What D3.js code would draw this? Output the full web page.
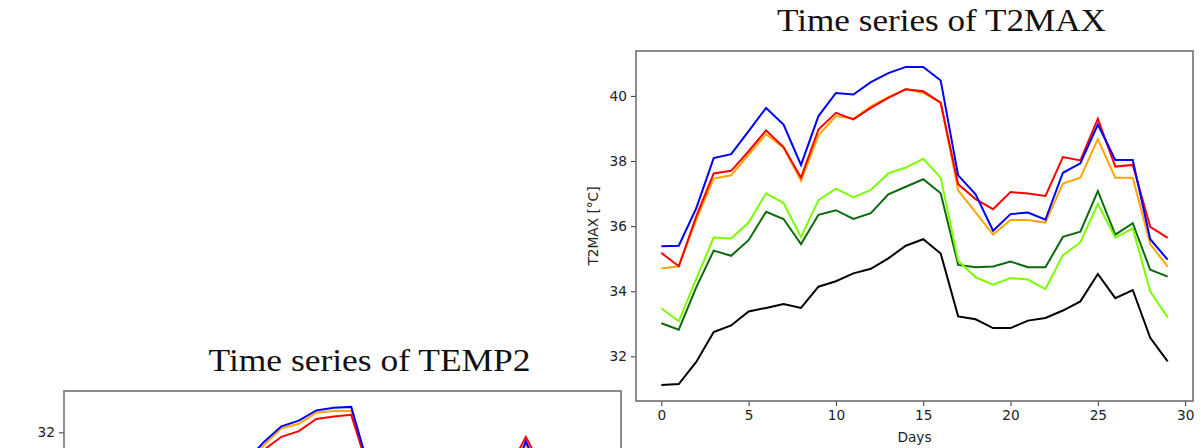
<!DOCTYPE html>
<html>
<head>
<meta charset="utf-8">
<title>Time series of T2MAX / TEMP2</title>
<script src="https://cdn.jsdelivr.net/npm/d3@7"></script>
<style>
    body { margin: 0; background: white; }
    .tick text { font-family: "DejaVu Sans", sans-serif; font-size: 13.7px; fill: #222; }
    .title { font-family: "Liberation Serif", serif; font-size: 31px; fill: #111; }
    .axis-label { font-family: "DejaVu Sans", sans-serif; font-size: 13.7px; fill: #222; }
</style>
</head>
<body>
<script>

// days on the x axis
var days = d3.range(0, 30);
var xTicks = [0, 5, 10, 15, 20, 25, 30];

// series names / colours (same order in both panels)
var seriesNames = ['black', 'darkgreen', 'lime', 'orange', 'red', 'blue'];
var seriesColors = ['#000000', '#0b6b0b', '#7cfc00', '#ffa500', '#ff0000', '#0000ff'];

// T2MAX values
var t2maxBlack = [31.12,31.15,31.83,32.75,32.95,33.38,33.49,33.61,33.49,34.14,34.31,34.55,34.69,35.01,35.40,35.60,35.16,33.23,33.14,32.87,32.87,33.10,33.18,33.41,33.69,34.53,33.79,34.04,32.57,31.85];
var t2maxDarkGreen = [33.02,32.82,34.12,35.25,35.09,35.57,36.44,36.22,35.45,36.35,36.49,36.22,36.40,36.98,37.21,37.44,37.01,34.81,34.74,34.76,34.91,34.74,34.74,35.67,35.83,37.08,35.74,36.09,34.66,34.45];
var t2maxLime = [33.48,33.08,34.38,35.65,35.62,36.11,37.01,36.71,35.67,36.80,37.15,36.88,37.11,37.62,37.80,38.07,37.49,34.94,34.43,34.20,34.41,34.36,34.07,35.11,35.50,36.68,35.65,35.93,34.00,33.20];
var t2maxOrange = [34.70,34.77,36.20,37.46,37.56,38.20,38.82,38.41,37.39,38.79,39.38,39.30,39.68,39.96,40.21,40.09,39.79,37.10,36.42,35.74,36.19,36.19,36.11,37.31,37.49,38.67,37.49,37.49,35.45,34.76];
var t2maxRed = [35.18,34.77,36.30,37.62,37.70,38.30,38.94,38.43,37.49,38.97,39.48,39.28,39.63,39.94,40.20,40.14,39.79,37.29,36.83,36.52,37.05,37.00,36.93,38.12,38.02,39.30,37.83,37.88,35.98,35.64];
var t2maxBlue = [35.38,35.40,36.55,38.09,38.21,38.92,39.63,39.12,37.88,39.38,40.09,40.04,40.42,40.70,40.89,40.89,40.47,37.56,36.98,35.86,36.37,36.42,36.20,37.64,37.93,39.12,38.03,38.03,35.60,34.97];

// TEMP2 values (only the top of this panel is on screen, the rest is estimated)
var temp2Black = [22.8,22.9,23.5,24.3,24.5,24.9,25.0,25.1,25.0,25.6,25.8,26.0,26.1,26.4,26.7,26.9,26.6,24.8,24.7,24.5,24.5,24.7,24.8,25.0,25.3,26.0,25.4,25.6,24.2,23.6];
var temp2DarkGreen = [25.4,25.2,26.0,27.0,27.0,27.5,28.0,27.8,27.3,27.9,28.1,28.0,28.2,28.6,28.8,29.0,28.4,26.9,26.8,26.8,26.9,26.8,26.8,27.4,27.6,28.7,27.5,27.8,26.5,26.2];
var temp2Lime = [25.8,25.5,26.2,27.2,27.3,27.8,28.3,28.1,27.5,28.2,28.5,28.4,28.6,29.0,29.2,29.5,28.6,26.8,26.4,26.2,26.3,26.3,26.1,26.9,27.2,28.4,27.4,27.6,26.0,25.4];
var temp2Orange = [27.9,27.8,28.6,29.9,30.1,30.7,31.1,30.9,30.0,30.9,31.6,32.13,32.27,32.62,32.67,32.67,30.8,29.5,29.2,28.8,28.9,29.0,28.9,29.8,30.2,31.65,30.3,30.3,28.8,28.2];
var temp2Red = [28.0,27.9,28.7,30.0,30.2,30.8,31.1,31.0,30.1,30.9,31.45,31.86,32.04,32.42,32.50,32.55,30.8,29.7,29.5,29.2,29.3,29.3,29.2,30.2,30.8,31.86,30.8,30.8,29.2,28.7];
var temp2Blue = [28.3,28.2,29.0,30.3,30.5,31.0,31.2,31.2,30.3,31.1,31.7,32.19,32.37,32.69,32.77,32.80,30.9,29.6,29.3,28.9,29.0,29.1,29.0,30.0,30.3,31.72,30.5,30.6,29.0,28.4];

var svgWidth = 1204;
var svgHeight = 448;
var plotW = 557;
var plotH = 350;

var svg = d3.select('body').append('svg')
    .attr('width', svgWidth)
    .attr('height', svgHeight)
    .style('display', 'block');

function drawPanel(cfg) {
    var g = svg.append('g')
        .attr('transform', `translate(${cfg.left}, ${cfg.top})`);

    // matplotlib style 5% margins
    var xPad = (days[days.length - 1] - days[0]) * 0.05;
    var x = d3.scaleLinear()
        .domain([days[0] - xPad, days[days.length - 1] + xPad])
        .range([0, plotW]);

    var all = cfg.series.flat();
    var yMin = d3.min(all), yMax = d3.max(all);
    var yPad = (yMax - yMin) * 0.05;
    var y = d3.scaleLinear()
        .domain([yMin - yPad, yMax + yPad])
        .range([plotH, 0]);

    var clipId = 'clip-' + cfg.id;
    g.append('clipPath').attr('id', clipId)
        .append('rect').attr('width', plotW).attr('height', plotH);

    var line = d3.line()
        .x((d, i) => x(days[i]))
        .y(d => y(d));

    g.append('g').attr('clip-path', `url(#${clipId})`)
        .selectAll('path')
        .data(cfg.series)
        .enter()
        .append('path')
            .attr('d', line)
            .style('fill', 'none')
            .style('stroke', (d, i) => seriesColors[i])
            .style('stroke-width', 2)
            .style('stroke-linejoin', 'miter');

    // axes
    var xAxis = d3.axisBottom(x).tickValues(xTicks).tickSize(5).tickPadding(4);
    var yAxis = d3.axisLeft(y).ticks(5).tickSize(5).tickPadding(4);

    var gx = g.append('g').attr('transform', `translate(0, ${plotH})`).call(xAxis);
    var gy = g.append('g').call(yAxis);
    [gx, gy].forEach(a => {
        a.select('.domain').remove();
        a.selectAll('.tick line').style('stroke', '#333').style('stroke-width', 1);
    });

    // frame
    g.append('rect')
        .attr('width', plotW)
        .attr('height', plotH)
        .style('fill', 'none')
        .style('stroke', '#707070')
        .style('stroke-width', 1.6);

    g.append('text')
        .attr('class', 'axis-label')
        .attr('x', plotW / 2)
        .attr('y', plotH + 41)
        .attr('text-anchor', 'middle')
        .text('Days');

    g.append('text')
        .attr('class', 'axis-label')
        .attr('transform', `translate(-38, ${plotH / 2}) rotate(-90)`)
        .attr('text-anchor', 'middle')
        .text(cfg.yLabel);

    svg.append('text')
        .attr('class', 'title')
        .attr('x', cfg.left + plotW / 2 + 27)
        .attr('y', cfg.top - 20)
        .attr('text-anchor', 'middle')
        .attr('textLength', cfg.titleLen)
        .attr('lengthAdjust', 'spacingAndGlyphs')
        .text(cfg.title);
}

drawPanel({
    id: 'temp2',
    left: 64, top: 391,
    title: 'Time series of TEMP2', titleLen: 322,
    yLabel: 'TEMP2 [°C]',
    series: [temp2Black, temp2DarkGreen, temp2Lime, temp2Orange, temp2Red, temp2Blue]
});

drawPanel({
    id: 't2max',
    left: 636, top: 51,
    title: 'Time series of T2MAX', titleLen: 329,
    yLabel: 'T2MAX [°C]',
    series: [t2maxBlack, t2maxDarkGreen, t2maxLime, t2maxOrange, t2maxRed, t2maxBlue]
});

// the lower panel runs off the bottom of the page: drop labels that can't be seen
svg.selectAll('text').filter(function() {
    var b = this.getBoundingClientRect();
    return b.top >= svgHeight - 2;
}).remove();

</script>
</body>
</html>
